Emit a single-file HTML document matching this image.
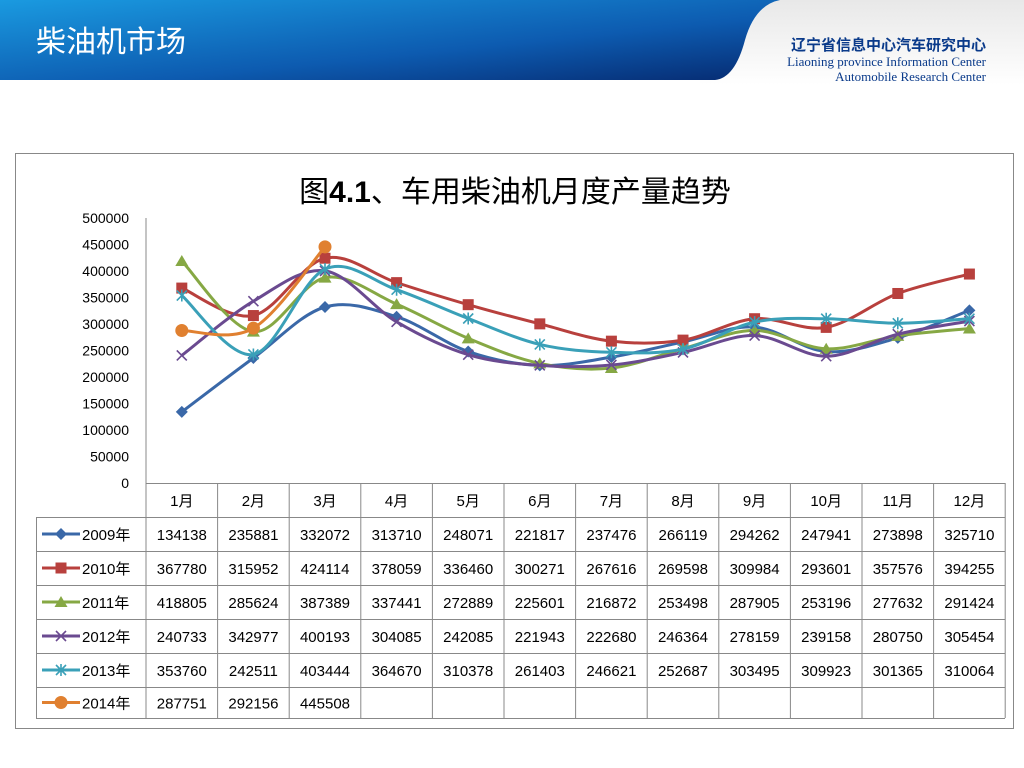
<!DOCTYPE html>
<html><head><meta charset="utf-8"><style>
body{margin:0;width:1024px;height:768px;background:#fff;overflow:hidden;font-family:"Liberation Sans","Noto Sans CJK SC",sans-serif;position:relative}
</style></head><body>
<svg width="1024" height="768" style="position:absolute;left:0;top:0">
<defs>
<linearGradient id="bl" x1="0" y1="0" x2="1" y2="1"><stop offset="0" stop-color="#1a9ae0"/><stop offset="0.6" stop-color="#0d5bb0"/><stop offset="1" stop-color="#062a70"/></linearGradient>
<linearGradient id="gr" x1="0" y1="0" x2="0" y2="1"><stop offset="0" stop-color="#e8e8e8"/><stop offset="1" stop-color="#ffffff"/></linearGradient>
</defs>
<rect x="700" y="0" width="324" height="85" fill="url(#gr)"/>
<path d="M0 0 H780 Q755 5 745 40 Q735 78 715 80 H0 Z" fill="url(#bl)"/>
<text x="36" y="52" font-size="30" fill="#fff" font-family="Noto Sans CJK SC,sans-serif">柴油机市场</text>
<text x="986" y="50" font-size="15" text-anchor="end" fill="#0a3a8a" font-family="Noto Sans CJK SC,sans-serif" font-weight="bold">辽宁省信息中心汽车研究中心</text>
<text x="986" y="66" font-size="13" text-anchor="end" fill="#0a3a8a" font-family="Liberation Serif,serif">Liaoning province Information Center</text>
<text x="986" y="81" font-size="13" text-anchor="end" fill="#0a3a8a" font-family="Liberation Serif,serif">Automobile Research Center</text>
<rect x="15.5" y="153.5" width="998" height="575" fill="#fff" stroke="#888"/>
<text x="515" y="202" font-size="30" text-anchor="middle" font-family="Liberation Sans,Noto Sans CJK SC,sans-serif">图<tspan font-weight="bold">4.1</tspan>、车用柴油机月度产量趋势</text>
<g id="g"></g>
</svg>
<script>
const months=["1月","2月","3月","4月","5月","6月","7月","8月","9月","10月","11月","12月"];
const yTicks=[0,50000,100000,150000,200000,250000,300000,350000,400000,450000,500000];
const years=["2009年","2010年","2011年","2012年","2013年","2014年"];
const colors=["#3a68a8","#b8403d","#86a844","#6a4a90","#3aa0b8","#e08030"];
const markers=["diamond","square","triangle","x","star","circle"];
const s2009=[134138,235881,332072,313710,248071,221817,237476,266119,294262,247941,273898,325710];
const s2010=[367780,315952,424114,378059,336460,300271,267616,269598,309984,293601,357576,394255];
const s2011=[418805,285624,387389,337441,272889,225601,216872,253498,287905,253196,277632,291424];
const s2012=[240733,342977,400193,304085,242085,221943,222680,246364,278159,239158,280750,305454];
const s2013=[353760,242511,403444,364670,310378,261403,246621,252687,303495,309923,301365,310064];
const s2014=[287751,292156,445508];
const series=[s2009,s2010,s2011,s2012,s2013,s2014];
const NS="http://www.w3.org/2000/svg",G=document.getElementById('g');
const X0=146,CW=71.6,Y0=483,YH=265;
const xs=i=>X0+(i+0.5)*CW, ys=v=>Y0-v/500000*YH;
function mk(t,a,txt){const e=document.createElementNS(NS,t);for(const k in a)e.setAttribute(k,a[k]);if(txt!=null)e.textContent=txt;G.appendChild(e);return e;}
let e=mk('line',{x1:X0,y1:218,x2:X0,y2:Y0,stroke:'#888'});


yTicks.forEach(t=>{const el=mk('text',{x:129,y:ys(t)+5,'font-size':14,'text-anchor':'end'},t);

});
const TL=36,RH=[483,517,551,585,619,653,687,718];
for(let r=0;r<RH.length-1;r++){
 const left=r==0?X0:TL;
 mk('line',{x1:left,y1:RH[r]+0.5,x2:1005,y2:RH[r]+0.5,stroke:'#888'});
}
mk('line',{x1:TL,y1:718.5,x2:1005,y2:718.5,stroke:'#888'});
mk('line',{x1:TL+0.5,y1:517,x2:TL+0.5,y2:718,stroke:'#888'});
for(let i=0;i<=12;i++) mk('line',{x1:X0+i*CW,y1:483,x2:X0+i*CW,y2:718,stroke:'#888'});
months.forEach((m,i)=>{const el=mk('text',{x:xs(i),y:506,'font-size':15,'text-anchor':'middle'},m);

});
function marker(type,x,y,c){
 let el;
 if(type=='diamond')el=mk('path',{d:`M${x} ${y-6}L${x+6} ${y}L${x} ${y+6}L${x-6} ${y}Z`,fill:c});
 else if(type=='square')el=mk('rect',{x:x-5.5,y:y-5.5,width:11,height:11,fill:c});
 else if(type=='triangle')el=mk('path',{d:`M${x} ${y-6}L${x+6.5} ${y+5}L${x-6.5} ${y+5}Z`,fill:c});
 else if(type=='x')el=mk('path',{d:`M${x-5} ${y-5}L${x+5} ${y+5}M${x+5} ${y-5}L${x-5} ${y+5}`,stroke:c,'stroke-width':1.6,fill:'none'});
 else if(type=='star')el=mk('path',{d:`M${x-5} ${y-5}L${x+5} ${y+5}M${x+5} ${y-5}L${x-5} ${y+5}M${x} ${y-6}L${x} ${y+6}`,stroke:c,'stroke-width':1.6,fill:'none'});
 else el=mk('circle',{cx:x,cy:y,r:6.5,fill:c});
 return el;
}
function smooth(p){let d=`M${p[0][0]} ${p[0][1]}`;for(let i=0;i<p.length-1;i++){const a=p[i-1]||p[i],b=p[i],c=p[i+1],n=p[i+2]||c;const t=1/6;d+=`C${b[0]+(c[0]-a[0])*t} ${b[1]+(c[1]-a[1])*t} ${c[0]-(n[0]-b[0])*t} ${c[1]-(n[1]-b[1])*t} ${c[0]} ${c[1]}`;}return d;}
series.forEach((s,k)=>{
 const pts=s.map((v,i)=>[xs(i),ys(v)]);
 const ln=mk('path',{d:smooth(pts),fill:'none',stroke:colors[k],'stroke-width':3});
 
 
 pts.forEach(p=>{const m=marker(markers[k],p[0],p[1],colors[k]);
 
 });
 const ry=(RH[k+1]+RH[k+2])/2;
 const ll=mk('line',{x1:42,y1:ry,x2:80,y2:ry,stroke:colors[k],'stroke-width':3});
 
 
 const lm=marker(markers[k],61,ry,colors[k]);
 
 
 const lt=mk('text',{x:82,y:ry+6,'font-size':15},years[k]);
 
 
 s.forEach((v,i)=>{const c=mk('text',{x:xs(i),y:ry+6,'font-size':15,'text-anchor':'middle'},v);
 
 });
});
</script>
</body></html>
